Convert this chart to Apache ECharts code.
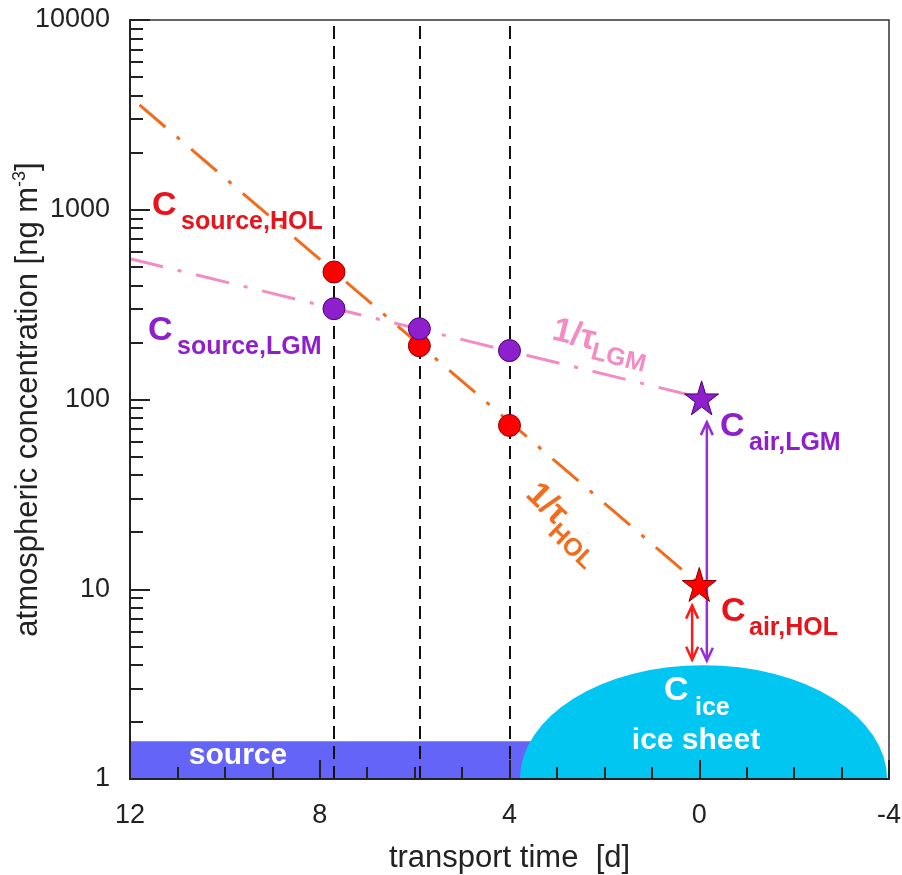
<!DOCTYPE html>
<html>
<head>
<meta charset="utf-8">
<script src="https://cdn.jsdelivr.net/npm/echarts@6/dist/echarts.min.js"></script>
<style>html,body{margin:0;background:#fff}#chart{width:902px;height:875px}</style>
</head>
<body>
<div id="chart"></div>
<script>
// transport time [d] of the three sampling sites
const sampleDays = [7.7, 5.9, 4.0];
const holSource = [470, 192, 73];   // C source, HOL
const lgmSource = [301, 236, 181];  // C source, LGM
// decay fits (start, end)
const holFit = [[11.8, 3570], [0, 10.6]];
const lgmFit = [[12, 552], [-0.05, 102]];
const holAir = [[0, 10.6]];
const lgmAir = [[-0.05, 102]];
// arrows: x, top, bottom
const lgmArrow = [-0.16, 76, 4.2];
const holArrow = [0.15, 8.2, 4.25];
// regions: x from, x to, top value
const sourceBand = [12, 3.5, 1.58];
const iceSheet = [3.78, -3.96, 3.98];
const xTicks = [12, 8, 4, 0, -4];
const yTicks = [1, 10, 100, 1000, 10000];

const FONT = '"Liberation Sans", Arial, sans-serif';
const chart = echarts.init(document.getElementById('chart'));

const pts = (xs, ys) => xs.map((x, i) => [x, ys[i]]);
const star = 'path://M50,0 L61,35 L98,35 L68,57 L79,91 L50,70 L21,91 L32,57 L2,35 L39,35 Z';

const ctx = document.createElement('canvas').getContext('2d');
function textWidth(s, size) {
    ctx.font = 'bold ' + size + 'px ' + FONT;
    return ctx.measureText(s).width;
}

function txt(x, y, s, size, color, align) {
    return {
        type: 'text', x: x, y: y, z: 100,
        style: {
            text: s, fill: color, font: 'bold ' + size + 'px ' + FONT,
            align: align || 'left', verticalAlign: 'middle'
        }
    };
}

function tau(x, y, rot, sub, subY, color) {
    const w = textWidth('1/τ', 34);
    return {
        type: 'group', x: x, y: y, rotation: rot, z: 100,
        children: [
            txt(0, 0, '1/τ', 34, color),
            txt(w - 1, subY, sub, 25, color)
        ]
    };
}

function arrowRender(color) {
    return function (params, api) {
        const top = api.coord([api.value(0), api.value(1)]);
        const bot = api.coord([api.value(0), api.value(2)]);
        const w = 6, h = 13;
        const st = { stroke: color, lineWidth: 2.5, fill: null };
        return {
            type: 'group',
            children: [
                { type: 'line', shape: { x1: top[0], y1: top[1], x2: bot[0], y2: bot[1] }, style: st },
                { type: 'polyline', shape: { points: [[top[0] - w, top[1] + h], top, [top[0] + w, top[1] + h]] }, style: st },
                { type: 'polyline', shape: { points: [[bot[0] - w, bot[1] - h], bot, [bot[0] + w, bot[1] - h]] }, style: st }
            ]
        };
    };
}

const option = {
    animation: false,
    grid: { left: 130, right: 13, top: 20, bottom: 96, outerBoundsMode: 'none', containLabel: false,
        show: true, borderColor: '#333', borderWidth: 1.5 },
    xAxis: {
        type: 'value', min: -4, max: 12, interval: 4, inverse: true, z: 10,
        name: 'transport time  [d]', nameLocation: 'middle', nameGap: 64, nameMoveOverlap: false,
        nameTextStyle: { fontSize: 31, color: '#222', fontFamily: FONT },
        axisLine: { onZero: false, lineStyle: { color: '#222', width: 2 } },
        axisTick: { inside: true, length: 19, lineStyle: { color: '#222', width: 2 } },
        minorTick: { show: true, splitNumber: 4, length: 12, lineStyle: { color: '#222', width: 2 } },
        axisLabel: { fontSize: 27, color: '#222', margin: 23, fontFamily: FONT,
            formatter: v => xTicks.includes(v) ? String(v) : '' },
        splitLine: { show: false }
    },
    yAxis: {
        type: 'log', logBase: 10, min: 1, max: 10000, z: 10,
        name: '{a|atmospheric concentration [ng m}{b|-3}{a|]}', nameLocation: 'middle', nameGap: 85,
        nameMoveOverlap: false,
        nameTextStyle: { color: '#222', fontFamily: FONT,
            rich: { a: { fontSize: 31, color: '#222', fontFamily: FONT, lineHeight: 34 },
                    b: { fontSize: 18, color: '#222', fontFamily: FONT, verticalAlign: 'top', lineHeight: 34 } } },
        axisLine: { show: true, onZero: false, lineStyle: { color: '#222', width: 2 } },
        axisTick: { show: true, inside: true, length: 20, lineStyle: { color: '#222', width: 2 } },
        minorTick: { show: true, splitNumber: 9, length: 13, lineStyle: { color: '#222', width: 2 } },
        axisLabel: { fontSize: 27, color: '#222', margin: 20, fontFamily: FONT,
            formatter: v => yTicks.includes(v) ? String(v) : '' },
        splitLine: { show: false }
    },
    series: [
        {
            type: 'custom', z: 1, silent: true,
            data: [sourceBand],
            renderItem: (params, api) => {
                const a = api.coord([api.value(0), api.value(2)]);
                const b = api.coord([api.value(1), 1]);
                return { type: 'rect', shape: { x: a[0], y: a[1], width: b[0] - a[0], height: b[1] - a[1] },
                    style: { fill: '#6464f8' } };
            }
        },
        {
            type: 'custom', z: 1, silent: true,
            data: [iceSheet],
            renderItem: (params, api) => {
                const l = api.coord([api.value(0), 1]);
                const r = api.coord([api.value(1), 1]);
                const t = api.coord([0, api.value(2)]);
                const rx = (r[0] - l[0]) / 2, ry = l[1] - t[1];
                return { type: 'path',
                    shape: { pathData: 'M' + l[0] + ' ' + l[1] + ' A' + rx + ' ' + ry + ' 0 0 1 ' + r[0] + ' ' + r[1] + ' Z' },
                    style: { fill: '#00c6f1' } };
            }
        },
        {
            type: 'line', data: [], z: 2,
            markLine: {
                silent: true, symbol: 'none', label: { show: false },
                lineStyle: { color: '#111', width: 2, type: [13, 7] },
                data: sampleDays.map(d => ({ xAxis: d }))
            }
        },
        {
            type: 'line', data: lgmFit, showSymbol: false, z: 3,
            lineStyle: { color: '#f38cc2', width: 3, type: [34, 15, 4, 15] }
        },
        {
            type: 'line', data: holFit, showSymbol: false, z: 3,
            lineStyle: { color: '#f26c1e', width: 3, type: [34, 15, 4, 15] }
        },
        {
            type: 'custom', z: 4, data: [lgmArrow], renderItem: arrowRender('#9630d2')
        },
        {
            type: 'custom', z: 4, data: [holArrow], renderItem: arrowRender('#ff1a1a')
        },
        {
            type: 'scatter', data: pts(sampleDays, holSource), symbolSize: 22, z: 5,
            itemStyle: { color: '#ff0000', borderColor: '#8a0000', borderWidth: 1, opacity: 1 }
        },
        {
            type: 'scatter', data: pts(sampleDays, lgmSource), symbolSize: 22, z: 5,
            itemStyle: { color: '#8e1fcc', borderColor: '#4a0070', borderWidth: 1, opacity: 1 }
        },
        {
            type: 'scatter', data: lgmAir, symbol: star, symbolSize: 34, z: 5,
            itemStyle: { color: '#8e1fcc', borderColor: '#4a0070', borderWidth: 1, opacity: 1 }
        },
        {
            type: 'scatter', data: holAir, symbol: star, symbolSize: 34, z: 6,
            itemStyle: { color: '#ff0000', borderColor: '#8a0000', borderWidth: 1, opacity: 1 }
        }
    ],
    graphic: [
        txt(152, 206, 'C', 34, '#e8141c'), txt(181, 222, 'source,HOL', 25, '#e8141c'),
        txt(148, 331, 'C', 34, '#8e1fcc'), txt(177, 347, 'source,LGM', 25, '#8e1fcc'),
        txt(720, 427, 'C', 34, '#8e1fcc'), txt(749, 443, 'air,LGM', 25, '#8e1fcc'),
        txt(721, 612, 'C', 34, '#e8141c'), txt(749, 628, 'air,HOL', 25, '#e8141c'),
        txt(664, 691, 'C', 34, '#ffffff'), txt(695, 708, 'ice', 25, '#ffffff'),
        txt(696, 741, 'ice sheet', 30, '#ffffff', 'center'),
        txt(238, 756, 'source', 30, '#ffffff', 'center'),
        tau(553, 330, -0.244, 'LGM', 12, '#f38cc2'),
        tau(531, 489, -0.77, 'HOL', 14, '#f26c1e')
    ]
};

chart.setOption(option);
</script>
</body>
</html>
